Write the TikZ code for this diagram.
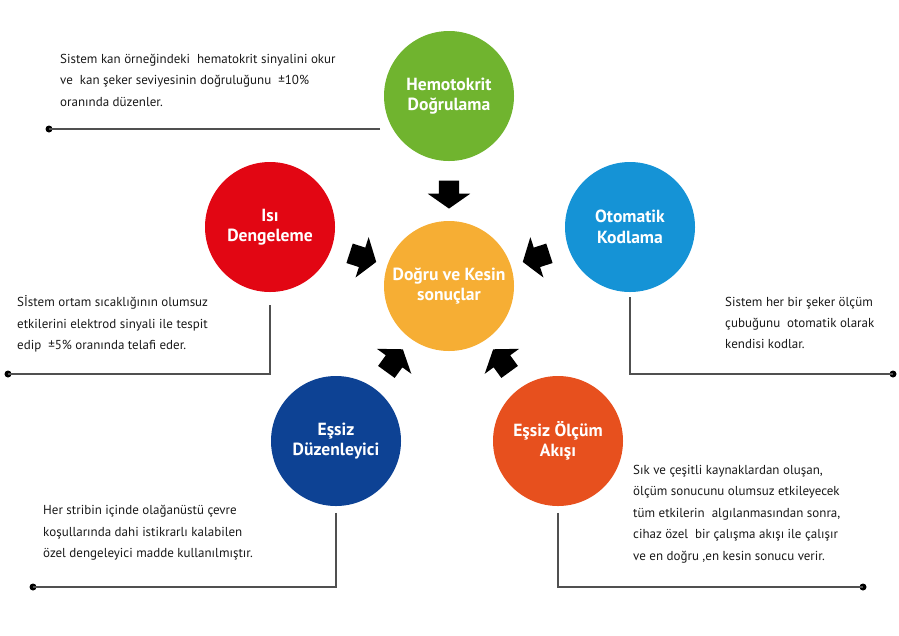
\documentclass[tikz,border=0pt]{standalone}
\usepackage{fontspec}
\setmainfont{PT Sans}
\usetikzlibrary{positioning,calc,shapes.arrows}
\definecolor{HemoGreen}{RGB}{112,180,47}
\definecolor{IsiRed}{RGB}{226,6,19}
\definecolor{KodBlue}{RGB}{21,147,214}
\definecolor{SonucOrange}{RGB}{246,174,52}
\definecolor{DuzNavy}{RGB}{13,66,148}
\definecolor{AkisOrange}{RGB}{231,80,30}
\definecolor{LeadGray}{RGB}{80,80,80}
\tikzset{
	bubble/.style={circle,minimum size=3.9cm,inner sep=0pt,text=white,align=center,
		font=\fontsize{15}{17.5}\selectfont\bfseries},
	note/.style={anchor=west,align=left,inner sep=0pt,text=black!90,
		font=\fontsize{11.1}{18.3}\selectfont},
	lead/.style={draw=LeadGray,line width=1.1pt},
	dot/.style={circle,fill=black,inner sep=0pt,minimum size=0.21cm},
	blk/.style={single arrow,fill=black,inner xsep=0pt,inner ysep=0.3cm,minimum height=0.84cm,
		single arrow head extend=0.33cm,single arrow tip angle=110},
}

\begin{document}
\begin{tikzpicture}[x=0.03cm,y=-0.03cm]
	\useasboundingbox (0,0) rectangle (899,635);
	% circles
	\node[bubble,fill=HemoGreen] (hemo) at (449,96) {Hemotokrit\\Doğrulama};
	\node[bubble,fill=IsiRed] (isi) at (270,227) {Isı\\Dengeleme};
	\node[bubble,fill=KodBlue] (oto) at (630,227) {Otomatik\\Kodlama};
	\node[bubble,fill=SonucOrange] (sonuc) at (449,286) {Doğru ve Kesin\\sonuçlar};
	\node[bubble,fill=DuzNavy] (duz) at (336,441) {Eşsiz\\Düzenleyici};
	\node[bubble,fill=AkisOrange] (akis) at (558,441) {Eşsiz Ölçüm\\Akışı};
	% block arrows towards the result
	\foreach \s/\r in {hemo/-90,isi/-18,oto/-162,duz/54,akis/126}
		\node[blk,rotate=\r] (a\s) at ($(\s)!0.5!(sonuc)$) {};
	% leader lines
	\coordinate (hemoEnd) at (380,129);
	\node[dot] (hemoDot) at (49,129) {};
	\node[dot] (isiDot) at (8,374) {};
	\node[dot] (otoDot) at (893,374) {};
	\node[dot] (duzDot) at (33,587) {};
	\node[dot] (akisDot) at (863,587) {};
	\draw[lead] (hemoEnd) -- (hemoDot.center);
	\draw[lead] ([yshift=-0.39cm]isi.south) |- (isiDot.center);
	\draw[lead] ([yshift=-0.15cm]oto.south) |- (otoDot.center);
	\draw[lead] ([yshift=-0.2cm]duz.south) |- (duzDot.center);
	\draw[lead] ([yshift=-0.2cm]akis.south) |- (akisDot.center);
	% texts
	\node[note] (hemoTxt) at (60,80) {Sistem kan örneğindeki \ hematokrit sinyalini okur\\ve \ kan şeker seviyesinin doğruluğunu \ ±10\%\\oranında düzenler.};
	\node[note] (isiTxt) at (17,324) {Sİstem ortam sıcaklığının olumsuz\\etkilerini elektrod sinyali ile tespit\\edip \ ±5\% oranında telafi eder.};
	\node[note] (otoTxt) at (725,323) {Sistem her bir şeker ölçüm\\çubuğunu \ otomatik olarak\\kendisi kodlar.};
	\node[note] (duzTxt) at (43,533) {Her stribin içinde olağanüstü çevre\\koşullarında dahi istikrarlı kalabilen\\özel dengeleyici madde kullanılmıştır.};
	\node[note] (akisTxt) at (633,514) {Sık ve çeşitli kaynaklardan oluşan,\\ölçüm sonucunu olumsuz etkileyecek\\tüm etkilerin \ algılanmasından sonra,\\cihaz özel \ bir çalışma akışı ile çalışır\\ve en doğru ,en kesin sonucu verir.};
\end{tikzpicture}
\end{document}
